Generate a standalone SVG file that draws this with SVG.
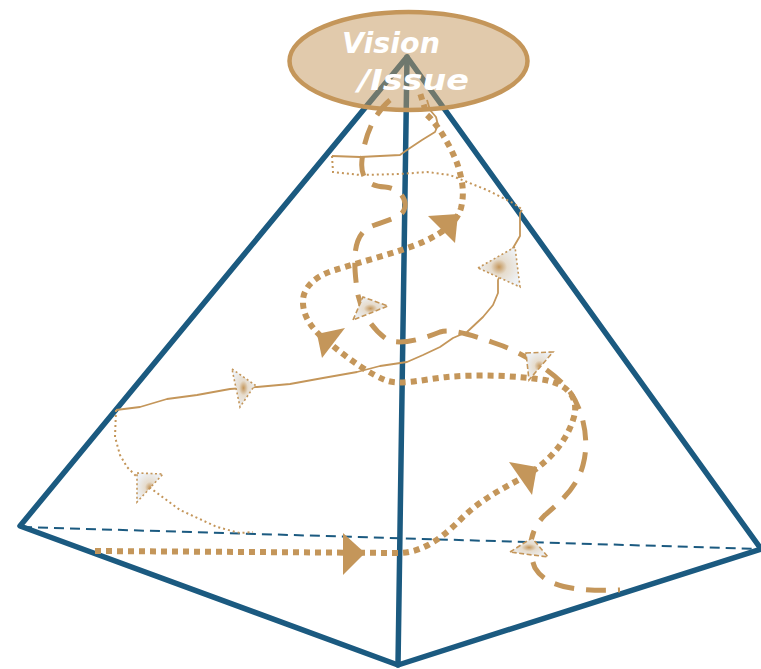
<svg xmlns="http://www.w3.org/2000/svg" width="761" height="669" viewBox="0 0 761 669">
<style>
.edge{stroke:#1b5a80;stroke-width:5.5;stroke-linecap:round;stroke-linejoin:round;fill:none}
.back{stroke:#1b5a80;stroke-width:2;stroke-dasharray:10 6;fill:none}
.thickdot{stroke:#c4965a;stroke-width:6;stroke-dasharray:6 5;fill:none}
.thickdash{stroke:#c4965a;stroke-width:5;stroke-dasharray:20 12;fill:none}
.thin{stroke:#c4965a;stroke-width:1.8;fill:none;stroke-linejoin:round}
.thindot{stroke:#c4965a;stroke-width:2;stroke-dasharray:2 3;fill:none}
.arrow{fill:#c4965a;stroke:none}
.mk{fill:url(#mkg);stroke:#c4965a;stroke-width:1.6}
.mkdot{stroke-dasharray:2 2.5}
.mkdash{stroke-dasharray:5 2.5}
.label{font-family:"DejaVu Sans",Verdana,sans-serif;font-style:italic;font-weight:bold;font-size:29px;fill:#ffffff}
</style>
<defs>
<radialGradient id="mkg" cx="0.5" cy="0.5" r="0.55">
<stop offset="0" stop-color="#c4965a"/>
<stop offset="0.35" stop-color="#e6dccd"/>
<stop offset="1" stop-color="#eef2f7"/>
</radialGradient>
</defs>
<g id="pyramid">
<path class="back" d="M22,527 L761,549"/>
<path class="edge" d="M407,57 L20,526 L398,665 L761,549 Z"/>
<path class="edge" d="M407,57 L398,665"/>
</g>
<g id="connectors">
<path class="thickdot" d="M95,551 L400,553 C425,552 445,535 460,520 C480,500 500,490 522,478 C545,465 565,445 573,420 C580,400 570,385 545,380 C520,376 480,374 447,377 C425,379 400,386 385,380 C370,374 350,360 333,346 C315,333 302,318 303,300 C304,285 318,275 335,270 C360,262 400,252 423,242 C443,233 457,222 461,208 C465,192 462,178 457,163 C450,145 438,125 427,115 L420,93"/>
<path class="thickdash" d="M390,100 C378,110 365,130 362,160 C360,178 368,186 385,187 C400,188 408,200 404,210 C400,220 375,222 365,230 C352,242 354,265 357,290 C360,310 372,330 388,340 C400,345 420,340 440,332 C455,328 480,338 503,346 C525,355 555,372 570,392 C583,410 590,440 583,465 C577,488 560,502 545,515 C530,530 527,548 535,568 C545,585 570,592 620,590"/>
<path class="thin" d="M116,410 L140,407 L167,399 L197,395 L230,389 L257,387 L290,384 L323,378 L357,372 L380,366 L407,362 L423,355 L440,347 L453,338 L467,332 L483,317 L493,305 L498,293 L498,280 L503,268 L513,248 L520,236 L520,213 L522,210"/>
<path class="thin" d="M332,156 L360,157 L400,155 L407,150 L422,140 L435,132 L438,125 L436,117 L430,110 L427,100"/>
<path class="thindot" d="M332,156 L333,172 L360,175 L400,174 L427,172 L450,175 L467,182 L487,190 L513,203 L523,210"/>
<path class="thindot" d="M116,410 L115,437 L120,455 L127,467 L140,480 L153,490 L180,510 L217,527 L240,533 L253,532"/>
<polygon class="arrow" points="343,533 365,553 343,575"/>
<polygon class="arrow" points="509,462 537,467 532,495"/>
<polygon class="arrow" points="428,216 458,214 455,243"/>
<polygon class="arrow" points="317,334 345,328 322,358"/>
<polygon class="mk mkdot" points="232,369 255,385 240,407"/>
<polygon class="mk mkdot" points="137,473 163,474 137,502"/>
<polygon class="mk mkdot" points="478,268 515,247 520,287"/>
<polygon class="mk mkdash" points="353,320 363,297 388,306"/>
<polygon class="mk mkdash" points="526,353 553,352 529,380"/>
<polygon class="mk mkdash" points="510,552 532,538 548,557"/>
</g>
<g id="vision">
<ellipse cx="408.5" cy="61" rx="119" ry="49" fill="#c4965a" fill-opacity="0.5" stroke="#c4965a" stroke-width="4.5"/>
<text class="label" x="342" y="53" textLength="98" lengthAdjust="spacingAndGlyphs">Vision</text>
<text class="label" x="358" y="90" textLength="111" lengthAdjust="spacingAndGlyphs">/Issue</text>
</g>
</svg>
